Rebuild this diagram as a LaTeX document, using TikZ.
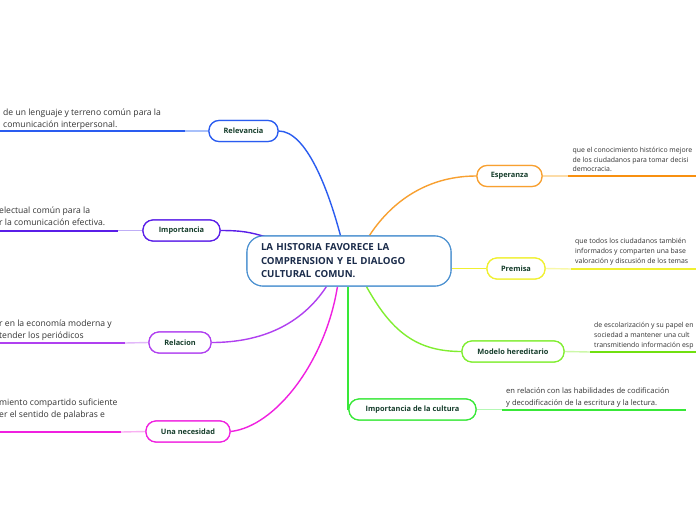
\documentclass[tikz,border=0pt]{standalone}
\usepackage{fontspec}
\setmainfont{Open Sans}
\usetikzlibrary{calc}
\definecolor{cRel}{HTML}{2A5CF0}
\definecolor{cRelL}{HTML}{A8C0FA}
\definecolor{cImp}{HTML}{5A1EE8}
\definecolor{cImpL}{HTML}{BFAEF6}
\definecolor{cRela}{HTML}{B040F0}
\definecolor{cRelaL}{HTML}{E2B8FA}
\definecolor{cNec}{HTML}{F020E0}
\definecolor{cNecL}{HTML}{F9B0F2}
\definecolor{cEsp}{HTML}{F8A030}
\definecolor{cEspD}{HTML}{F89010}
\definecolor{cEspL}{HTML}{FCDCA8}
\definecolor{cPre}{HTML}{F0F030}
\definecolor{cPreL}{HTML}{F8F8A8}
\definecolor{cMod}{HTML}{80EE30}
\definecolor{cModD}{HTML}{70E010}
\definecolor{cModL}{HTML}{CCF8A8}
\definecolor{cCul}{HTML}{38E838}
\definecolor{cCulL}{HTML}{B4F8B4}
\definecolor{cCen}{HTML}{4A90D0}
\definecolor{labtxt}{HTML}{153D2B}
\definecolor{centxt}{HTML}{1A2B4A}
\definecolor{bodytxt}{HTML}{333333}
\tikzset{
  topic/.style={draw=#1, line width=1.2pt, rounded corners=10pt, fill=white,
    minimum height=21pt, inner sep=0pt, text=labtxt,
    font=\fontsize{7.4}{8}\selectfont\bfseries},
  centre/.style={draw=cCen, line width=1.1pt, rounded corners=16pt, fill=white,
    text width=176pt, inner xsep=14pt, minimum height=50pt, align=left,
    text=centxt, font=\fontsize{9.7}{13.5}\selectfont\bfseries},
  bodyL/.style={anchor=north west, inner sep=0pt, align=left, text=bodytxt,
    font=\fontsize{8.6}{12}\selectfont},
  bodyR/.style={anchor=north west, inner sep=0pt, align=left, text=bodytxt,
    font=\fontsize{6.9}{9.6}\selectfont},
  bodyC/.style={anchor=north west, inner sep=0pt, align=left, text=bodytxt,
    font=\fontsize{7.6}{12}\selectfont},
  conn/.style={draw=#1, line width=1.4pt},
  uline/.style={draw=#1, line width=2pt},
  lline/.style={draw=#1, line width=1.4pt}
}
\begin{document}
\begin{tikzpicture}[x=1pt,y=-1pt]
\clip (0,0) rectangle (696,520);
\fill[white] (0,0) rectangle (696,520);

% central node
\node[centre] (c) at (349,261) {LA HISTORIA FAVORECE LA\\COMPRENSION Y EL DIALOGO\\CULTURAL COMUN.};

% topic nodes
\node[topic=cRel, minimum width=69pt] (rel) at (243.5,131) {Relevancia};
\node[topic=cImp, minimum width=77pt] (imp) at (181.5,230.5) {Importancia};
\node[topic=cRela, minimum width=62pt] (rela) at (180,342.5) {Relacion};
\node[topic=cNec, minimum width=84pt] (nec) at (188,431.5) {Una necesidad};
\node[topic=cEsp, minimum width=65pt] (esp) at (509.5,176) {Esperanza};
\node[topic=cPre, minimum width=58pt] (pre) at (516,268.5) {Premisa};
\node[topic=cMod, minimum width=102pt] (mod) at (513,351.5) {Modelo hereditario};
\node[topic=cCul, minimum width=127pt] (cul) at (412.5,409.5) {Importancia de la cultura};

% connector anchor points on the central node
\coordinate (cRelA) at ([xshift=94pt]c.north west);
\coordinate (cEspA) at ([xshift=123pt]c.north west);
\coordinate (cImpA) at ([xshift=18pt,yshift=-1pt]c.north west);
\coordinate (cRelaA) at ([xshift=80pt]c.south west);
\coordinate (cNecA) at ([xshift=91pt]c.south west);
\coordinate (cCulA) at ([xshift=101.5pt]c.south west);
\coordinate (cModA) at ([xshift=120pt]c.south west);
\coordinate (cPreA) at ([yshift=-7.5pt]c.east);

\path[conn=cRel] (rel.east) .. controls +(28,0) and +(-12,-45) .. (cRelA);
\path[conn=cImp] (imp.east) .. controls +(22,0) and +(-14,-4) .. (cImpA);
\path[conn=cEsp] (cEspA) .. controls +(25,-38) and +(-45,0) .. (esp.west);
\path[conn=cRela] (cRelaA) .. controls +(-25,38) and +(50,0) .. (rela.east);
\path[conn=cNec] (cNecA) .. controls +(-12,75) and +(45,-5) .. (nec.east);
\path[draw=cCul, line width=1.9pt] (cCulA) -- (cCulA |- cul.west) -- (cul.west);
\path[conn=cMod] (cModA) .. controls +(25,45) and +(-45,0) .. (mod.west);
\path[conn=cPre] (cPreA) -- (pre.west);

% underline bars and text, left side
\coordinate (relEnd) at (0,131);
\coordinate (relMid) at (185,131);
\path[lline=cRelL] (rel.west) -- (relMid);
\path[uline=cRel] (relMid) -- (relEnd);
\node[bodyL] (relT) at (3,109) {de un lenguaje y terreno común para la\\comunicación interpersonal.};

\coordinate (impEnd) at (0,230.5);
\coordinate (impMid) at (118,230.5);
\path[lline=cImpL] (imp.west) -- (impMid);
\path[uline=cImp] (impMid) -- (impEnd);
\node[bodyL] (impT) at (-1,207) {electual común para la\\r la comunicación efectiva.};

\coordinate (relaEnd) at (0,343);
\coordinate (relaMid) at (125,343);
\path[lline=cRelaL] (rela.west) -- (relaMid);
\path[uline=cRela] (relaMid) -- (relaEnd);
\node[bodyL] (relaT) at (-1,320) {r en la economía moderna y\\tender los periódicos};

\coordinate (necEnd) at (0,432);
\coordinate (necMid) at (121,432);
\path[lline=cNecL] (nec.west) -- (necMid);
\path[uline=cNec] (necMid) -- (necEnd);
\node[bodyL] (necT) at (-1,398.5) {miento compartido suficiente\\er el sentido de palabras e};

% right side
\coordinate (espEnd) at (696,176);
\coordinate (espMid) at (568,176);
\path[lline=cEspL] (esp.east) -- (espMid);
\path[uline=cEspD] (espMid) -- (espEnd);
\node[bodyR] (espT) at (572.5,147) {que el conocimiento histórico mejore\\de los ciudadanos para tomar decisi\\democracia.};

\coordinate (preEnd) at (696,269);
\coordinate (preMid) at (571,269);
\path[lline=cPreL] (pre.east) -- (preMid);
\path[uline=cPre] (preMid) -- (preEnd);
\node[bodyR] (preT) at (575,238.5) {que todos los ciudadanos también\\informados y comparten una base\\valoración y discusión de los temas};

\coordinate (modEnd) at (696,352);
\coordinate (modMid) at (590,352);
\path[lline=cModL] (mod.east) -- (modMid);
\path[uline=cModD] (modMid) -- (modEnd);
\node[bodyR] (modT) at (594,322.5) {de escolarización y su papel en\\sociedad a mantener una cult\\transmitiendo información esp};

\coordinate (culEnd) at (686,409.5);
\coordinate (culMid) at (502,409.5);
\path[lline=cCulL] (cul.east) -- (culMid);
\path[uline=cCul] (culMid) -- (culEnd);
\node[bodyC] (culT) at (506,387.5) {en relación con las habilidades de codificación\\y decodificación de la escritura y la lectura.};

% redraw boxes on top of connectors
\node[topic=cRel, minimum width=69pt] at (rel) {Relevancia};
\node[topic=cImp, minimum width=77pt] at (imp) {Importancia};
\node[topic=cRela, minimum width=62pt] at (rela) {Relacion};
\node[topic=cNec, minimum width=84pt] at (nec) {Una necesidad};
\node[topic=cEsp, minimum width=65pt] at (esp) {Esperanza};
\node[topic=cPre, minimum width=58pt] at (pre) {Premisa};
\node[topic=cMod, minimum width=102pt] at (mod) {Modelo hereditario};
\node[topic=cCul, minimum width=127pt] at (cul) {Importancia de la cultura};
\node[centre] at (c) {LA HISTORIA FAVORECE LA\\COMPRENSION Y EL DIALOGO\\CULTURAL COMUN.};
\end{tikzpicture}
\end{document}
